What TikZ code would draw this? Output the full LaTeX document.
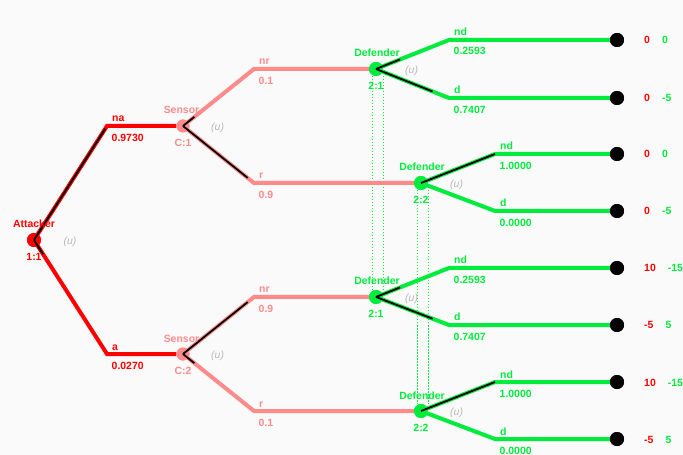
\documentclass[tikz,border=0pt]{standalone}
\usepackage{fontspec}
\setmainfont{Liberation Sans}
\usetikzlibrary{calc}
\definecolor{pA}{RGB}{255,0,0}
\definecolor{pC}{RGB}{255,138,138}
\definecolor{pD}{RGB}{0,236,60}
\definecolor{ugray}{RGB}{185,185,185}
\definecolor{bgc}{RGB}{250,250,250}
\begin{document}
\begin{tikzpicture}[x=1bp,y=-1bp,
  font=\fontsize{10.5}{12}\selectfont\bfseries,
  dot/.style={circle, inner sep=0pt, minimum size=14bp},
  sdot/.style={circle, inner sep=0pt, minimum size=13bp},
  br/.style={line width=4bp, line join=miter, line cap=butt},
  blk/.style={draw=black, line width=1.8bp},
  info/.style={draw=pD, line width=0.7bp, dash pattern=on 1.5bp off 1.5bp},
  lbl/.style={inner sep=0pt},
  ulbl/.style={inner sep=0pt, text=ugray, font=\fontsize{10.5}{12}\selectfont\itshape, anchor=west}
]
\useasboundingbox (0,0) rectangle (683,455);
\fill[bgc] (0,0) rectangle (683,455);

% coordinates of corners
\coordinate (cna) at (107,126);
\coordinate (ca) at (107,354);
\coordinate (c11) at (254,69);
\coordinate (c12) at (254,183);
\coordinate (c21) at (254,297);
\coordinate (c22) at (254,411);
\coordinate (e11) at (449,40);
\coordinate (e12) at (449,98);
\coordinate (e21) at (495,154);
\coordinate (e22) at (495,211);
\coordinate (e31) at (449,268);
\coordinate (e32) at (449,325);
\coordinate (e41) at (495,382);
\coordinate (e42) at (495,439);

% node positions
\coordinate (pA0) at (34,240);
\coordinate (pS1) at (183,126);
\coordinate (pS2) at (183,354);
\coordinate (pD1) at (376,69);
\coordinate (pD2) at (421,183);
\coordinate (pD3) at (376,297);
\coordinate (pD4) at (421,411);

% information sets (dotted)
\draw[info] (372,76) coordinate (i1a) -- (372,290) coordinate (i1b);
\draw[info] (383,76) coordinate (i2a) -- (383,290) coordinate (i2b);
\draw[info] (417,190) coordinate (i3a) -- (417,404) coordinate (i3b);
\draw[info] (428,190) coordinate (i4a) -- (428,404) coordinate (i4b);

% nodes
\node[dot, fill=pA] (A) at (pA0) {};
\node[sdot, fill=pC] (S1) at (pS1) {};
\node[sdot, fill=pC] (S2) at (pS2) {};
\node[dot, fill=pD] (D1) at (pD1) {};
\node[dot, fill=pD] (D2) at (pD2) {};
\node[dot, fill=pD] (D3) at (pD3) {};
\node[dot, fill=pD] (D4) at (pD4) {};
\foreach \i/\y in {1/40,2/98,3/154,4/211,5/268,6/325,7/382,8/439}
  \node[dot, fill=black] (T\i) at (617,\y) {};

% branches
\begin{scope}[on background layer/.style={}]
\draw[br, draw=pA] (A.center) -- (cna) -- (S1.west);
\draw[br, draw=pA] (A.center) -- (ca) -- (S2.west);
\draw[br, draw=pC] (S1.center) -- (c11) -- (D1.west);
\draw[br, draw=pC] (S1.center) -- (c12) -- (D2.west);
\draw[br, draw=pC] (S2.center) -- (c21) -- (D3.west);
\draw[br, draw=pC] (S2.center) -- (c22) -- (D4.west);
\draw[br, draw=pD] (D1.center) -- (e11) -- (T1.west);
\draw[br, draw=pD] (D1.center) -- (e12) -- (T2.west);
\draw[br, draw=pD] (D2.center) -- (e21) -- (T3.west);
\draw[br, draw=pD] (D2.center) -- (e22) -- (T4.west);
\draw[br, draw=pD] (D3.center) -- (e31) -- (T5.west);
\draw[br, draw=pD] (D3.center) -- (e32) -- (T6.west);
\draw[br, draw=pD] (D4.center) -- (e41) -- (T7.west);
\draw[br, draw=pD] (D4.center) -- (e42) -- (T8.west);
\end{scope}

% redraw node discs over branch lines
\fill[pA] (A.center) circle (7bp);
\fill[pC] (S1.center) circle (6.5bp);
\fill[pC] (S2.center) circle (6.5bp);
\foreach \n in {D1,D2,D3,D4} \fill[pD] (\n.center) circle (7bp);
\foreach \i in {1,...,8} \fill[black] (T\i.center) circle (7bp);

% probability overlays
\draw[blk] (A.center) -- ($(A.center)!0.976!(cna)$);
\draw[blk] (A.center) -- ($(A.center)!0.124!(ca)$);
\draw[blk] (S1.center) -- ($(S1.center)!0.16!(c11)$);
\draw[blk] (S1.center) -- ($(S1.center)!0.91!(c12)$);
\draw[blk] (S2.center) -- ($(S2.center)!0.91!(c21)$);
\draw[blk] (S2.center) -- ($(S2.center)!0.16!(c22)$);
\draw[blk] (D1.center) -- ($(D1.center)!0.33!(e11)$);
\draw[blk] (D1.center) -- ($(D1.center)!0.775!(e12)$);
\draw[blk] (D3.center) -- ($(D3.center)!0.33!(e31)$);
\draw[blk] (D3.center) -- ($(D3.center)!0.775!(e32)$);
\draw[blk] (D2.center) -- (e21);
\draw[blk] (D4.center) -- (e41);

% node labels
\node[lbl, anchor=base, text=pA] (lA) at ($(A)+(0,-12)$) {Attacker};
\node[lbl, anchor=north, text=pA] (iA) at ($(A)+(0,13)$) {1:1};
\node[ulbl] (uA) at ($(A)+(29.5,1.5)$) {(u)};
\node[lbl, anchor=base, text=pC] (lS1) at ($(S1)+(-1.5,-12)$) {Sensor};
\node[lbl, anchor=north, text=pC] (iS1) at ($(S1)+(0,13)$) {C:1};
\node[ulbl] (uS1) at ($(S1)+(28,1.5)$) {(u)};
\node[lbl, anchor=base, text=pC] (lS2) at ($(S2)+(-1.5,-12)$) {Sensor};
\node[lbl, anchor=north, text=pC] (iS2) at ($(S2)+(0,13)$) {C:2};
\node[ulbl] (uS2) at ($(S2)+(28,1.5)$) {(u)};
\foreach \n/\t in {D1/2:1,D2/2:2,D3/2:1,D4/2:2}{
  \node[lbl, anchor=base, text=pD] (l\n) at ($(\n)+(1,-12)$) {Defender};
  \node[lbl, anchor=north, text=pD] (i\n) at ($(\n)+(0,13)$) {\t};
  \node[ulbl] (u\n) at ($(\n)+(29,1.5)$) {(u)};
}

% branch labels
\newcommand{\brlab}[4]{%
  \node[lbl, anchor=base west, text=#4] at ($(#1)+(5,-4)$) {#2};
  \node[lbl, anchor=north west, text=#4] at ($(#1)+(4.5,7.5)$) {#3};}
\brlab{cna}{na}{0.9730}{pA}
\brlab{ca}{a}{0.0270}{pA}
\brlab{c11}{nr}{0.1}{pC}
\brlab{c12}{r}{0.9}{pC}
\brlab{c21}{nr}{0.9}{pC}
\brlab{c22}{r}{0.1}{pC}
\brlab{e11}{nd}{0.2593}{pD}
\brlab{e12}{d}{0.7407}{pD}
\brlab{e21}{nd}{1.0000}{pD}
\brlab{e22}{d}{0.0000}{pD}
\brlab{e31}{nd}{0.2593}{pD}
\brlab{e32}{d}{0.7407}{pD}
\brlab{e41}{nd}{1.0000}{pD}
\brlab{e42}{d}{0.0000}{pD}

% payoffs
\newcommand{\payoff}[3]{%
  \node[lbl, anchor=base west] at ($(T#1)+(27,4)$) {\textcolor{pA}{#2}\hspace{12bp}\textcolor{pD}{#3}};}
\payoff{1}{0}{0}
\payoff{2}{0}{-5}
\payoff{3}{0}{0}
\payoff{4}{0}{-5}
\payoff{5}{10}{-15}
\payoff{6}{-5}{5}
\payoff{7}{10}{-15}
\payoff{8}{-5}{5}
\end{tikzpicture}
\end{document}
